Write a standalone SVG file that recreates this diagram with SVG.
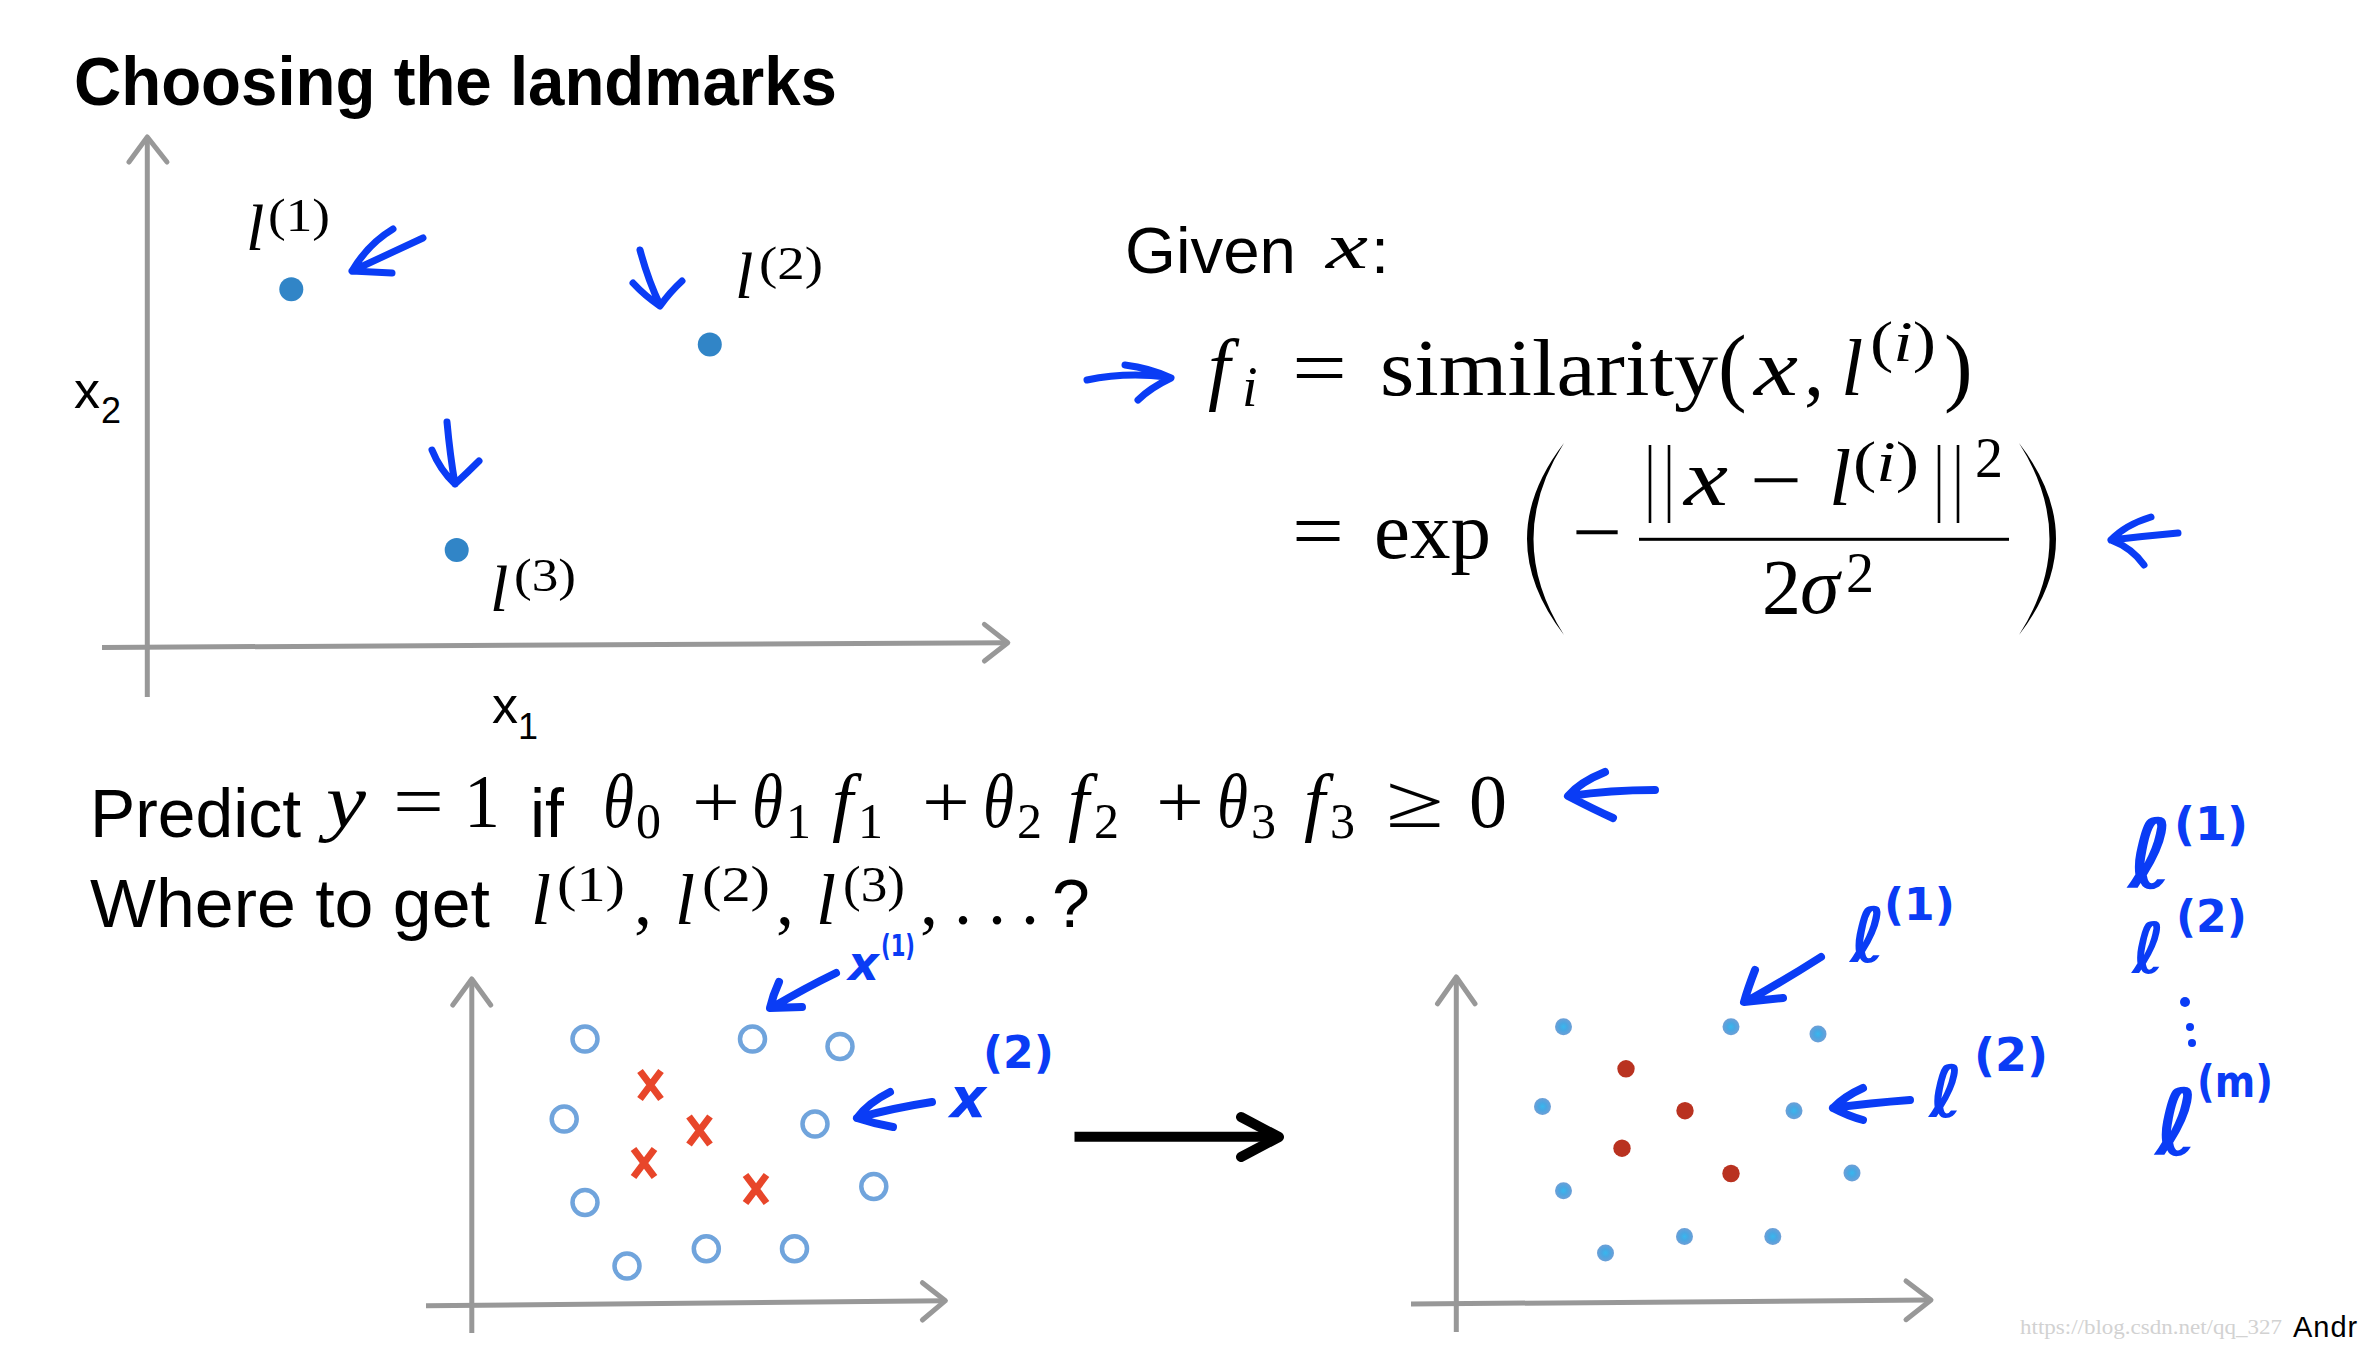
<svg xmlns="http://www.w3.org/2000/svg" width="2360" height="1346" viewBox="0 0 2360 1346">
<defs>
<style>
.ax{stroke:#989898;stroke-width:5;fill:none;stroke-linecap:butt}
.axh{stroke:#989898;stroke-width:5;fill:none;stroke-linecap:round;stroke-linejoin:round}
.hand{stroke:#0a3cf5;stroke-width:7;fill:none;stroke-linecap:round;stroke-linejoin:round}
.hand8{stroke:#0a3cf5;stroke-width:8;fill:none;stroke-linecap:round;stroke-linejoin:round}
.t{font-family:"Liberation Sans",Arial,sans-serif;fill:#000}
.m{font-family:"Liberation Serif","Times New Roman",serif;fill:#000}
.i{font-style:italic}
.hw{font-family:"DejaVu Sans",sans-serif;font-weight:bold;fill:#0a3cf5}
.lm{fill:#3185c7}
.oc{fill:none;stroke:#70a4dc;stroke-width:4.5}
.xx{stroke:#e8462a;stroke-width:7;stroke-linecap:butt}
.bd{fill:url(#gb)}
.rd{fill:#b93220}
</style>
<radialGradient id="gb" cx="0.5" cy="0.5" r="0.5">
<stop offset="0" stop-color="#36b8ef"/>
<stop offset="0.45" stop-color="#4aa6e2"/>
<stop offset="1" stop-color="#6e9fd6"/>
</radialGradient>
</defs>
<rect x="0" y="0" width="2360" height="1346" fill="#fff"/>

<g id="title">
<text class="t" x="74" y="105" font-size="68" font-weight="bold" textLength="763" lengthAdjust="spacingAndGlyphs">Choosing the landmarks</text>
</g>

<g id="plot-landmarks">
<line class="ax" x1="147.3" y1="697" x2="147.3" y2="138"/>
<polyline class="axh" points="129,162 147.3,137 167,162"/>
<line class="ax" x1="102" y1="647.4" x2="1006" y2="642.8"/>
<polyline class="axh" points="984.4,624.4 1007.8,642.8 984.4,661"/>
<text class="t" x="74" y="408" font-size="52">x</text>
<text class="t" x="101" y="423" font-size="36">2</text>
<text class="t" x="492" y="722.5" font-size="52">x</text>
<text class="t" x="518" y="739" font-size="36">1</text>
<circle class="lm" cx="291.3" cy="289.3" r="12"/>
<circle class="lm" cx="709.8" cy="344.4" r="12"/>
<circle class="lm" cx="456.7" cy="550" r="12"/>
<text class="m i" x="246" y="250" font-size="66">l</text>
<text class="m" x="268" y="231" font-size="46" textLength="62" lengthAdjust="spacingAndGlyphs">(1)</text>
<text class="m i" x="735" y="298" font-size="66">l</text>
<text class="m" x="759" y="279" font-size="46" textLength="64" lengthAdjust="spacingAndGlyphs">(2)</text>
<text class="m i" x="490" y="611" font-size="66">l</text>
<text class="m" x="514" y="591" font-size="46" textLength="62" lengthAdjust="spacingAndGlyphs">(3)</text>
</g>

<g id="formula">
<text class="t" x="1125" y="273" font-size="65" textLength="171" lengthAdjust="spacingAndGlyphs">Given</text>
<text class="m i" x="1326" y="268" font-size="66" textLength="42" lengthAdjust="spacingAndGlyphs">x</text>
<text class="t" x="1371" y="273" font-size="65">:</text>

<text class="m i" x="1208" y="395" font-size="80">f</text>
<text class="m i" x="1242" y="406" font-size="56">i</text>
<text class="m" x="1292" y="395" font-size="80" textLength="55" lengthAdjust="spacingAndGlyphs">=</text>
<text class="m" x="1380" y="395" font-size="80" textLength="338" lengthAdjust="spacingAndGlyphs">similarity</text>
<text class="m" x="1718" y="395" font-size="86">(</text>
<text class="m i" x="1754" y="395" font-size="80" textLength="44" lengthAdjust="spacingAndGlyphs">x</text>
<text class="m" x="1804" y="395" font-size="80">,</text>
<text class="m i" x="1841" y="395" font-size="80">l</text>
<text class="m" x="1870" y="361" font-size="58" textLength="66" lengthAdjust="spacingAndGlyphs">(<tspan font-style="italic">i</tspan>)</text>
<text class="m" x="1944" y="395" font-size="86">)</text>

<text class="m" x="1292" y="558" font-size="80" textLength="52" lengthAdjust="spacingAndGlyphs">=</text>
<text class="m" x="1374" y="558" font-size="80" textLength="117" lengthAdjust="spacingAndGlyphs">exp</text>
<path d="M1564,443 Q1490,539 1564,635 Q1503,539 1564,443 Z" fill="#000"/>
<path d="M2019,443 Q2093,539 2019,635 Q2080,539 2019,443 Z" fill="#000"/>
<text class="m" x="1572" y="559" font-size="80" textLength="50" lengthAdjust="spacingAndGlyphs">−</text>
<rect x="1639" y="537.8" width="370" height="3" fill="#000"/>
<line x1="1650" y1="445" x2="1650" y2="523" stroke="#000" stroke-width="2.6"/>
<line x1="1669" y1="445" x2="1669" y2="523" stroke="#000" stroke-width="2.6"/>
<text class="m i" x="1684" y="505" font-size="80" textLength="44" lengthAdjust="spacingAndGlyphs">x</text>
<text class="m" x="1750" y="507" font-size="80" textLength="52" lengthAdjust="spacingAndGlyphs">−</text>
<text class="m i" x="1829" y="505" font-size="80">l</text>
<text class="m" x="1853" y="481" font-size="56" textLength="66" lengthAdjust="spacingAndGlyphs">(<tspan font-style="italic">i</tspan>)</text>
<line x1="1939" y1="445" x2="1939" y2="523" stroke="#000" stroke-width="2.6"/>
<line x1="1958" y1="445" x2="1958" y2="523" stroke="#000" stroke-width="2.6"/>
<text class="m" x="1975" y="477" font-size="56">2</text>
<text class="m" x="1762" y="613" font-size="78">2</text>
<text class="m i" x="1800" y="613" font-size="80">σ</text>
<text class="m" x="1846" y="592" font-size="56">2</text>
</g>

<g id="predict">
<text class="t" x="90" y="837" font-size="68" textLength="211" lengthAdjust="spacingAndGlyphs">Predict</text>
<text class="m i" x="326" y="827" font-size="76" textLength="40" lengthAdjust="spacingAndGlyphs">y</text>
<text class="m" x="393" y="827" font-size="76" textLength="51" lengthAdjust="spacingAndGlyphs">=</text>
<text class="m" x="464" y="827" font-size="76" textLength="36" lengthAdjust="spacingAndGlyphs">1</text>
<text class="t" x="530" y="837" font-size="68">if</text>
<text class="m i" x="603" y="827" font-size="76" textLength="31" lengthAdjust="spacingAndGlyphs">θ</text>
<text class="m" x="636" y="838" font-size="50">0</text>
<text class="m" x="692" y="827" font-size="76" textLength="48" lengthAdjust="spacingAndGlyphs">+</text>
<text class="m i" x="752" y="827" font-size="76" textLength="31" lengthAdjust="spacingAndGlyphs">θ</text>
<text class="m" x="786" y="838" font-size="50">1</text>
<text class="m i" x="832" y="827" font-size="76">f</text>
<text class="m" x="858" y="838" font-size="50">1</text>
<text class="m" x="922" y="827" font-size="76" textLength="48" lengthAdjust="spacingAndGlyphs">+</text>
<text class="m i" x="983" y="827" font-size="76" textLength="31" lengthAdjust="spacingAndGlyphs">θ</text>
<text class="m" x="1017" y="838" font-size="50">2</text>
<text class="m i" x="1068" y="827" font-size="76">f</text>
<text class="m" x="1094" y="838" font-size="50">2</text>
<text class="m" x="1156" y="827" font-size="76" textLength="48" lengthAdjust="spacingAndGlyphs">+</text>
<text class="m i" x="1217" y="827" font-size="76" textLength="31" lengthAdjust="spacingAndGlyphs">θ</text>
<text class="m" x="1251" y="838" font-size="50">3</text>
<text class="m i" x="1304" y="827" font-size="76">f</text>
<text class="m" x="1330" y="838" font-size="50">3</text>
<text class="m" x="1386" y="827" font-size="76" textLength="58" lengthAdjust="spacingAndGlyphs">≥</text>
<text class="m" x="1469" y="827" font-size="76" textLength="38" lengthAdjust="spacingAndGlyphs">0</text>

<text class="t" x="90" y="927" font-size="68" textLength="400" lengthAdjust="spacingAndGlyphs">Where to get</text>
<text class="m i" x="531" y="924" font-size="72">l</text>
<text class="m" x="557" y="901" font-size="50" textLength="68" lengthAdjust="spacingAndGlyphs">(1)</text>
<text class="m" x="634" y="924" font-size="72">,</text>
<text class="m i" x="675" y="924" font-size="72">l</text>
<text class="m" x="702" y="901" font-size="50" textLength="68" lengthAdjust="spacingAndGlyphs">(2)</text>
<text class="m" x="776" y="924" font-size="72">,</text>
<text class="m i" x="816" y="924" font-size="72">l</text>
<text class="m" x="843" y="901" font-size="50" textLength="62" lengthAdjust="spacingAndGlyphs">(3)</text>
<text class="m" x="920" y="924" font-size="72">,</text>
<text class="m" x="954" y="924" font-size="72">.</text>
<text class="m" x="988" y="924" font-size="72">.</text>
<text class="m" x="1021" y="924" font-size="72">.</text>
<text class="t" x="1052" y="927" font-size="68">?</text>
</g>

<g id="plot-data">
<line class="ax" x1="471.8" y1="1333" x2="471.8" y2="980"/>
<polyline class="axh" points="452.8,1005 471.8,979 490.7,1005"/>
<line class="ax" x1="426" y1="1305.7" x2="944" y2="1300.7"/>
<polyline class="axh" points="922.4,1282.7 945.4,1300.7 922.4,1320"/>
<circle class="oc" cx="585" cy="1039" r="12.5"/>
<circle class="oc" cx="752.5" cy="1039" r="12.5"/>
<circle class="oc" cx="840" cy="1046.5" r="12.5"/>
<circle class="oc" cx="564.2" cy="1119" r="12.5"/>
<circle class="oc" cx="815" cy="1124" r="12.5"/>
<circle class="oc" cx="585" cy="1202.5" r="12.5"/>
<circle class="oc" cx="873.8" cy="1186.5" r="12.5"/>
<circle class="oc" cx="627" cy="1266" r="12.5"/>
<circle class="oc" cx="706.3" cy="1248.8" r="12.5"/>
<circle class="oc" cx="794.5" cy="1248.8" r="12.5"/>
<path class="xx" d="M640,1071 L661,1099 M661,1071 L640,1099"/>
<path class="xx" d="M689,1116.5 L710,1144.5 M710,1116.5 L689,1144.5"/>
<path class="xx" d="M633.5,1149 L654.5,1177 M654.5,1149 L633.5,1177"/>
<path class="xx" d="M745.5,1175 L766.5,1203 M766.5,1175 L745.5,1203"/>
</g>

<g id="transform-arrow">
<line x1="1074.5" y1="1136.7" x2="1272" y2="1136.7" stroke="#000" stroke-width="10"/>
<polyline points="1241,1117 1279,1137 1241,1157" fill="none" stroke="#000" stroke-width="10" stroke-linecap="round" stroke-linejoin="round"/>
</g>

<g id="plot-features">
<line class="ax" x1="1456.3" y1="1332" x2="1456.3" y2="978"/>
<polyline class="axh" points="1437.5,1003.8 1456.3,977 1475,1003.8"/>
<line class="ax" x1="1411" y1="1304" x2="1929" y2="1300"/>
<polyline class="axh" points="1906,1281 1931,1300 1906,1319.7"/>
<circle class="bd" cx="1563.5" cy="1026.8" r="8.5"/>
<circle class="bd" cx="1731" cy="1026.8" r="8.5"/>
<circle class="bd" cx="1818" cy="1034" r="8.5"/>
<circle class="bd" cx="1542.5" cy="1106.5" r="8.5"/>
<circle class="bd" cx="1794" cy="1110.7" r="8.5"/>
<circle class="bd" cx="1563.5" cy="1190.7" r="8.5"/>
<circle class="bd" cx="1852" cy="1173" r="8.5"/>
<circle class="bd" cx="1605.5" cy="1253" r="8.5"/>
<circle class="bd" cx="1684.5" cy="1236.5" r="8.5"/>
<circle class="bd" cx="1772.8" cy="1236.5" r="8.5"/>
<circle class="rd" cx="1626" cy="1068.8" r="8.7"/>
<circle class="rd" cx="1685" cy="1110.7" r="8.7"/>
<circle class="rd" cx="1622" cy="1148.2" r="8.7"/>
<circle class="rd" cx="1731" cy="1173.5" r="8.7"/>
</g>

<g id="annotations">
<path class="hand" d="M423,238 L352,271 M393,229 Q368,244 352,271 L392,273"/>
<path class="hand" d="M640,250 Q648,280 660,305 M633,283 Q645,296 660,306 Q670,292 682,281"/>
<path class="hand" d="M447,422 Q450,455 455,484 M432,450 Q440,470 455,484 Q468,472 479,461"/>
<path class="hand" d="M1087,380 Q1125,372 1167,377 M1125,365 Q1150,368 1171,378 Q1150,388 1138,400"/>
<path class="hand" d="M2178,533 Q2145,536 2111,540 M2151,517 Q2125,525 2111,540 Q2132,548 2144,565"/>
<path class="hand8" d="M1655,790 Q1610,790 1570,796 M1605,772 Q1580,782 1568,796 Q1595,810 1613,818"/>
<path class="hand8" d="M836,973 Q805,988 773,1007 M779,982 Q773,995 770,1008 L802,1007"/>
<path class="hand8" d="M932,1102 Q893,1108 857,1118 M890,1092 Q868,1103 857,1118 Q875,1124 893,1127"/>
<path class="hand8" d="M1821,957 Q1785,980 1749,1000 M1755,970 Q1748,988 1744,1002 L1783,998"/>
<path class="hand8" d="M1910,1100 Q1870,1103 1833,1108 M1863,1088 Q1845,1096 1833,1108 Q1848,1116 1863,1120"/>
<text class="hw" x="848" y="980" font-size="48" font-style="italic">x</text>
<text class="hw" x="881" y="956" font-size="30" textLength="34" lengthAdjust="spacingAndGlyphs">(1)</text>
<text class="hw" x="950" y="1117" font-size="56" font-style="italic">x</text>
<text class="hw" x="983" y="1068" font-size="44">(2)</text>
<text class="hw" x="1850" y="962" font-size="76">ℓ</text>
<text class="hw" x="1884" y="920" font-size="44">(1)</text>
<text class="hw" x="1929" y="1117" font-size="72">ℓ</text>
<text class="hw" x="1974" y="1071" font-size="46">(2)</text>
<text class="hw" x="2128" y="888" font-size="96">ℓ</text>
<text class="hw" x="2174" y="840" font-size="46">(1)</text>
<text class="hw" x="2132" y="973" font-size="70">ℓ</text>
<text class="hw" x="2176" y="932" font-size="44">(2)</text>
<circle cx="2185" cy="1002" r="5" fill="#0a3cf5"/>
<circle cx="2190" cy="1027" r="4" fill="#0a3cf5"/>
<circle cx="2192" cy="1043" r="4" fill="#0a3cf5"/>
<text class="hw" x="2155" y="1155" font-size="92">ℓ</text>
<text class="hw" x="2197" y="1097" font-size="44" textLength="76" lengthAdjust="spacingAndGlyphs">(m)</text>
</g>

<g id="footer">
<text x="2020" y="1334" font-family="Liberation Serif, serif" font-size="20" fill="#d2d2d2" textLength="262" lengthAdjust="spacingAndGlyphs">https://blog.csdn.net/qq_327</text>
<text class="t" x="2293" y="1337" font-size="29" letter-spacing="1">Andr</text>
</g>
</svg>
